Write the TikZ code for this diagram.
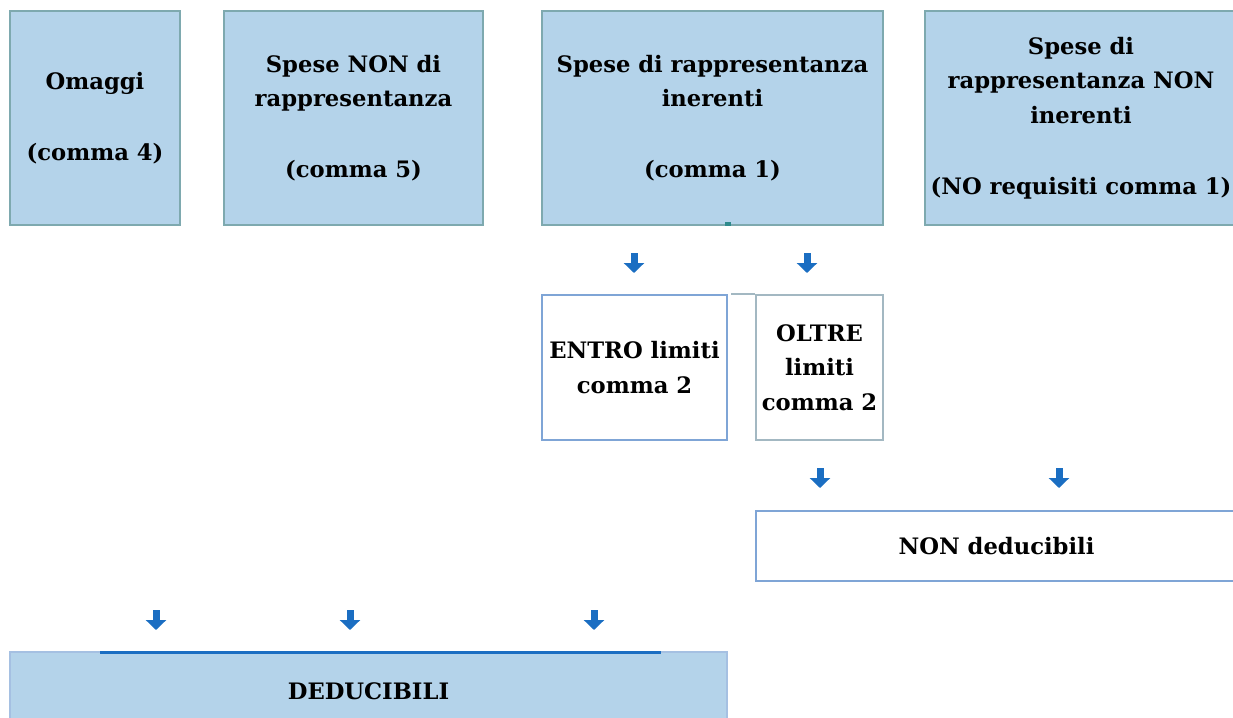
\documentclass[tikz,border=0pt]{standalone}
\usepackage{fontspec}
\setmainfont{DejaVu Serif}
\usetikzlibrary{arrows.meta}

\definecolor{boxblue}{HTML}{B4D3EA}
\definecolor{boxedge}{HTML}{7EA9AF}
\definecolor{markteal}{HTML}{2F8A8C}
\definecolor{arrowblue}{HTML}{1B6EC2}
\definecolor{edgeblue}{HTML}{7FA5D6}
\definecolor{edgegray}{HTML}{A3B8C2}

\newcommand{\blankline}{\\[27pt]}

\tikzset{
  boxtext/.style={inner sep=0pt, align=center, font=\fontsize{17}{26}\selectfont\bfseries},
  topbox/.style={boxtext, draw=boxedge, fill=boxblue, line width=1.2pt},
  whitebox/.style={boxtext, draw=edgeblue, fill=white, line width=1.2pt},
  downarrow/.style={draw=arrowblue, line width=5.25pt, -{Triangle[width=15pt,length=7.5pt]}}
}

\begin{document}
\begin{tikzpicture}[x=0.75pt, y=-0.75pt]

    % Picture frame (1233 x 718 px)
    \useasboundingbox (0,0) rectangle (1233,718);
    \clip (0,0) rectangle (1233,718);

    % Top row: the four kinds of expense
    \node[topbox, minimum width=127.5pt, minimum height=160.5pt] (omaggi) at (95,118)
        {Omaggi\blankline(comma 4)};
    \node[topbox, minimum width=194.25pt, minimum height=160.5pt] (nonrapp) at (353.5,118)
        {Spese NON di\\rappresentanza\blankline(comma 5)};
    \node[topbox, minimum width=255.75pt, minimum height=160.5pt] (inerenti) at (712.5,118)
        {Spese di rappresentanza\\inerenti\blankline(comma 1)};
    \node[topbox, minimum width=234pt, minimum height=160.5pt] (noninerenti) at (1081,118)
        {Spese di\\rappresentanza NON\\inerenti\blankline(NO requisiti comma 1)};

    % Small mark under the inerenti box
    \fill[markteal] (725,222) rectangle (731,226);

    % Middle row: within / beyond the limits
    \node[whitebox, minimum width=138.75pt, minimum height=108.75pt] (entro) at (634.5,367.5)
        {ENTRO limiti\\comma 2};
    \node[whitebox, draw=edgegray, minimum width=95.25pt, minimum height=108.75pt] (oltre) at (819.5,367.5)
        {OLTRE\\limiti\\comma 2};
    \coordinate (oltreL) at ([xshift=-18pt]oltre.north west);
    \draw[edgegray, line width=1.2pt] (oltreL) -- (oltre.north west);

    % Outcomes
    \node[whitebox, minimum width=360.75pt, minimum height=52.5pt] (nonded) at (996.5,546)
        {NON deducibili};
    \node[topbox, draw=edgeblue!70, minimum width=537.75pt, minimum height=58.5pt] (ded) at (368.5,691)
        {DEDUCIBILI};
    \coordinate (dedL) at (100,652);
    \coordinate (dedR) at (661,652);
    \draw[arrowblue, line width=2.25pt] (dedL) -- (dedR);

    % Small block arrows
    \coordinate (a1) at (634,253);  \coordinate (a1e) at (634,273);
    \coordinate (a2) at (807,253);  \coordinate (a2e) at (807,273);
    \coordinate (a3) at (820,468);  \coordinate (a3e) at (820,488);
    \coordinate (a4) at (1059,468); \coordinate (a4e) at (1059,488);
    \coordinate (a5) at (156,610);  \coordinate (a5e) at (156,630);
    \coordinate (a6) at (350,610);  \coordinate (a6e) at (350,630);
    \coordinate (a7) at (594,610);  \coordinate (a7e) at (594,630);
    \foreach \s in {1,...,7}
        \draw[downarrow] (a\s) -- (a\s e);

\end{tikzpicture}
\end{document}
